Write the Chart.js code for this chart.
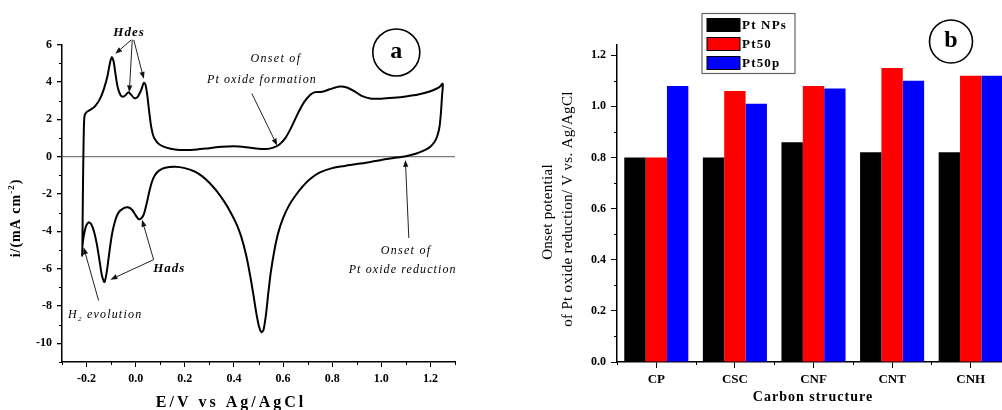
<!DOCTYPE html>
<html><head><meta charset="utf-8">
<script src="https://cdn.jsdelivr.net/npm/chart.js@4.4.1/dist/chart.umd.min.js"></script>
<style>
html,body{margin:0;padding:0;background:#fff;overflow:hidden;width:1002px;height:410px;position:relative;}
#wa{position:absolute;left:0;top:0;width:490px;height:410px;}
#wb{position:absolute;left:500px;top:0;width:520px;height:410px;}
canvas{display:block;}
</style></head><body>
<div id="wa"><canvas id="ca" width="490" height="410"></canvas></div>
<div id="wb"><canvas id="cb" width="520" height="410"></canvas></div>
<script>
// ---------- Panel a: cyclic voltammogram ----------
const potentialE = [
 -0.218,-0.217,-0.215,-0.213,-0.211,-0.208,-0.2,-0.185,-0.165,-0.145,-0.13,-0.115,-0.105,-0.097,-0.09,-0.082,-0.073,-0.062,-0.052,-0.04,
 -0.029,-0.018,-0.005,0.008,0.022,0.033,0.04,0.047,0.055,0.063,0.072,0.085,0.1,0.125,0.16,0.2,0.25,0.3,0.35,0.4,
 0.45,0.5,0.53,0.56,0.585,0.61,0.635,0.66,0.685,0.71,0.73,0.76,0.79,0.83,0.86,0.89,0.92,0.96,1.0,1.05,
 1.1,1.15,1.2,1.235,1.25,
 1.247,1.243,1.237,1.228,1.215,1.195,1.17,1.14,1.1,1.05,1.0,0.95,0.9,0.85,0.8,0.75,0.71,0.68,0.65,0.625,
 0.6,0.58,0.565,0.55,0.54,0.53,0.52,0.512,0.502,0.49,0.478,0.465,0.45,0.43,0.41,0.385,0.36,0.33,0.3,0.27,
 0.24,0.2,0.16,0.12,0.095,0.078,0.065,0.055,0.045,0.033,0.022,0.012,0.0,-0.015,-0.032,-0.05,-0.07,-0.085,-0.097,-0.107,
 -0.117,-0.127,-0.137,-0.147,-0.158,-0.17,-0.182,-0.192,-0.203,-0.212,-0.217
];
const currentI = [
 -5.35,-4.8,-2.0,0.0,1.5,2.2,2.38,2.5,2.7,3.1,3.6,4.3,5.0,5.32,5.1,4.4,3.7,3.3,3.2,3.3,
 3.45,3.3,3.12,3.2,3.55,3.95,3.85,3.3,2.4,1.6,1.1,0.8,0.62,0.48,0.38,0.35,0.38,0.45,0.52,0.55,
 0.5,0.42,0.4,0.48,0.65,1.0,1.6,2.3,2.9,3.3,3.45,3.47,3.6,3.75,3.7,3.5,3.25,3.1,3.1,3.15,
 3.22,3.32,3.5,3.7,3.9,
 3.2,2.4,1.6,1.1,0.75,0.48,0.3,0.15,0.02,-0.08,-0.18,-0.3,-0.4,-0.5,-0.62,-0.85,-1.2,-1.6,-2.1,-2.6,
 -3.3,-4.1,-5.0,-6.2,-7.3,-8.5,-9.3,-9.4,-9.1,-8.3,-7.3,-6.3,-5.3,-4.3,-3.6,-2.95,-2.4,-1.85,-1.4,-1.05,
 -0.8,-0.62,-0.55,-0.6,-0.75,-1.0,-1.4,-1.9,-2.5,-3.1,-3.32,-3.35,-3.15,-2.85,-2.72,-2.78,-3.0,-3.5,-4.2,-5.1,
 -6.1,-6.72,-6.4,-5.6,-4.7,-4.0,-3.6,-3.52,-3.75,-4.3,-4.8
];
const cvXTicks = [-0.2,0.0,0.2,0.4,0.6,0.8,1.0,1.2];
const cvXMinor = [-0.3,-0.1,0.1,0.3,0.5,0.7,0.9,1.1,1.3];
const cvYTicks = [-10,-8,-6,-4,-2,0,2,4,6];
const cvYMinor = [-11,-9,-7,-5,-3,-1,1,3,5];

// ---------- Panel b: onset potentials ----------
const carbonCategories = ['CP','CSC','CNF','CNT','CNH'];
const seriesNames = ['Pt NPs','Pt50','Pt50p'];
const ptNPs = [0.80,0.80,0.86,0.82,0.82];
const pt50  = [0.80,1.06,1.08,1.15,1.12];
const pt50p = [1.08,1.01,1.07,1.10,1.12];
const barYTicks = [0.0,0.2,0.4,0.6,0.8,1.0,1.2];
const barYMinor = [0.1,0.3,0.5,0.7,0.9,1.1];

const SERIF = '"Liberation Serif","Times New Roman",serif';

function txt(ctx, s, x, y, font, opt={}){
  ctx.save(); ctx.translate(x,y); ctx.rotate(opt.rot||0);
  ctx.font=font; try{ctx.letterSpacing=opt.sp||'0px';}catch(e){}
  ctx.textAlign=opt.align||'center'; ctx.textBaseline='middle'; ctx.fillStyle='#000';
  ctx.fillText(s,0,0); ctx.restore();
}
function rich(ctx, segs, x, y, rot, sp){
  ctx.save(); ctx.translate(x,y); ctx.rotate(rot||0);
  ctx.textBaseline='alphabetic'; ctx.fillStyle='#000'; ctx.textAlign='left';
  try{ctx.letterSpacing=sp||'0px';}catch(e){}
  let w=0; segs.forEach(s=>{ctx.font=s.font; s.w=ctx.measureText(s.t).width; w+=s.w;});
  let cx=-w/2;
  segs.forEach(s=>{ctx.font=s.font; ctx.fillText(s.t,cx,s.dy||0); cx+=s.w;});
  ctx.restore();
}
function arrow(ctx,x1,y1,x2,y2){
  ctx.save(); ctx.strokeStyle='#222'; ctx.fillStyle='#111'; ctx.lineWidth=1;
  const a=Math.atan2(y2-y1,x2-x1), L=7, W=2.6;
  const bx=x2-L*Math.cos(a), by=y2-L*Math.sin(a);
  ctx.beginPath(); ctx.moveTo(x1,y1); ctx.lineTo(bx,by); ctx.stroke();
  ctx.beginPath(); ctx.moveTo(x2,y2);
  ctx.lineTo(bx+W*Math.sin(a), by-W*Math.cos(a));
  ctx.lineTo(bx-W*Math.sin(a), by+W*Math.cos(a));
  ctx.closePath(); ctx.fill(); ctx.restore();
}

const minorTicks = {
  id:'minorTicks',
  afterDraw(chart, args, opts){
    const ctx=chart.ctx; ctx.save(); ctx.strokeStyle='#000'; ctx.lineWidth=1;
    const vals=opts.values||{};
    Object.keys(vals).forEach(axis=>{
      const s=chart.scales[axis];
      vals[axis].forEach(v=>{
        if(s.isHorizontal()){
          const px=Math.round(s.getPixelForValue(v))+0.5;
          ctx.beginPath(); ctx.moveTo(px,s.top); ctx.lineTo(px,s.top+opts.len); ctx.stroke();
        } else {
          const py=Math.round(s.getPixelForValue(v))+0.5;
          ctx.beginPath(); ctx.moveTo(s.right,py); ctx.lineTo(s.right-opts.len,py); ctx.stroke();
        }
      });
    });
    ctx.restore();
  }
};

// annotation anchors for panel a, in data units (E, i)
const annoTextsA = [
  {t:'Hdes', x:-0.027, y:6.62, f:'italic bold 13px '+SERIF, sp:'1px'},
  {t:'Onset of', x:0.571, y:5.25, f:'italic 12px '+SERIF, sp:'1.3px'},
  {t:'Pt oxide formation', x:0.514, y:4.12, f:'italic 12px '+SERIF, sp:'1.1px'},
  {t:'Hads', x:0.137, y:-6.0, f:'italic bold 13px '+SERIF, sp:'1px'},
  {t:'Onset of', x:1.101, y:-5.03, f:'italic 12px '+SERIF, sp:'1.3px'},
  {t:'Pt oxide reduction', x:1.087, y:-6.07, f:'italic 12px '+SERIF, sp:'1.1px'}
];
const annoArrowsA = [
  [-0.018,6.25,-0.083,5.5],
  [-0.014,6.25,-0.026,3.44],
  [-0.008,6.25,0.033,4.16],
  [0.473,3.37,0.576,0.59],
  [0.073,-5.52,0.026,-3.39],
  [0.073,-5.52,-0.103,-6.59],
  [-0.151,-7.71,-0.212,-4.86],
  [1.112,-4.36,1.098,-0.18]
];

const decorA = {
  id:'decorA',
  afterDraw(chart){
    const ctx=chart.ctx, X=chart.scales.x, Y=chart.scales.y;
    annoArrowsA.forEach(a=>arrow(ctx,X.getPixelForValue(a[0]),Y.getPixelForValue(a[1]),X.getPixelForValue(a[2]),Y.getPixelForValue(a[3])));
    annoTextsA.forEach(a=>txt(ctx,a.t,X.getPixelForValue(a.x),Y.getPixelForValue(a.y),a.f,{sp:a.sp}));
    // H2 evolution
    rich(ctx,[{t:'H',font:'italic 12px '+SERIF},{t:'2',font:'italic 7px '+SERIF,dy:3},{t:' evolution',font:'italic 12px '+SERIF}],
         X.getPixelForValue(-0.124),Y.getPixelForValue(-8.43)+4,0,'1.2px');
    // circle label
    const cx=X.getPixelForValue(1.061), cy=Y.getPixelForValue(5.57);
    ctx.save(); ctx.beginPath(); ctx.arc(cx,cy,23.5,0,Math.PI*2); ctx.lineWidth=1.6; ctx.strokeStyle='#000'; ctx.stroke(); ctx.restore();
    txt(ctx,'a',cx,cy-1,'bold 24px '+SERIF);
    // axis titles
    txt(ctx,'E/V vs Ag/AgCl',231,403,'bold 16px '+SERIF,{sp:'3px'});
    rich(ctx,[{t:'i/(mA cm',font:'bold 14px '+SERIF},{t:'-2',font:'bold 9px '+SERIF,dy:-6},{t:')',font:'bold 14px '+SERIF}],
         20,218,-Math.PI/2,'1px');
  }
};

const tickFont = {family:SERIF, weight:'bold', size:12};

new Chart(document.getElementById('ca'),{
  type:'scatter',
  data:{datasets:[{
    data: potentialE.map((e,k)=>({x:e,y:currentI[k]})),
    showLine:true, borderColor:'#000', borderWidth:2, pointRadius:0, tension:0.25, fill:false
  }]},
  options:{
    responsive:false, animation:false, devicePixelRatio:1,
    layout:{padding:{top:44.5,right:35,left:0,bottom:0}},
    plugins:{legend:{display:false}, tooltip:{enabled:false},
      minorTicks:{len:3, values:{x:cvXMinor, y:cvYMinor}}},
    scales:{
      x:{type:'linear', min:-0.3, max:1.3,
        afterBuildTicks:s=>{s.ticks=cvXTicks.map(v=>({value:v}));},
        afterFit:s=>{s.height=48;},
        border:{display:true,color:'#000',width:1.5},
        grid:{drawOnChartArea:false,drawTicks:true,tickLength:5,color:'#000',lineWidth:1},
        ticks:{color:'#000',font:tickFont,padding:5,maxRotation:0,autoSkip:false,callback:v=>Number(v).toFixed(1)}},
      y:{type:'linear', min:-11, max:6,
        afterBuildTicks:s=>{s.ticks=cvYTicks.map(v=>({value:v}));},
        afterFit:s=>{s.width=62;},
        border:{display:true,color:'#000',width:1.5},
        grid:{drawOnChartArea:true,drawTicks:true,tickLength:5,lineWidth:1.3,
              color:c=>(c.tick && c.tick.value===0)?'#7a7a7a':'rgba(0,0,0,0)', tickColor:'#000'},
        ticks:{color:'#000',font:tickFont,padding:5,callback:v=>String(v)}}
    }
  },
  plugins:[minorTicks, decorA]
});

// ---------- Panel b ----------
const barColors = ['#000000','#ff0000','#0000ff'];
const decorB = {
  id:'decorB',
  afterDraw(chart){
    const ctx=chart.ctx;
    // legend box
    ctx.save();
    ctx.fillStyle='#fff'; ctx.fillRect(202,13.5,93,60);
    ctx.strokeStyle='#666'; ctx.lineWidth=1.2; ctx.strokeRect(202,13.5,93,60);
    const rows=[18.5,37.5,56.5];
    chart.data.datasets.forEach((ds,k)=>{
      ctx.fillStyle=ds.backgroundColor; ctx.fillRect(207,rows[k],33,13);
      ctx.strokeStyle='#000'; ctx.lineWidth=1; ctx.strokeRect(207,rows[k],33,13);
      txt(ctx,ds.label,242,rows[k]+7,'bold 13px '+SERIF,{align:'left',sp:'1.2px'});
    });
    ctx.restore();
    // circle label
    ctx.save(); ctx.beginPath(); ctx.arc(451,41.5,21.5,0,Math.PI*2); ctx.lineWidth=1.6; ctx.strokeStyle='#000'; ctx.stroke(); ctx.restore();
    txt(ctx,'b',451,40.5,'bold 24px '+SERIF);
    // axis titles
    txt(ctx,'Carbon structure',313,397,'bold 14px '+SERIF,{sp:'1px'});
    txt(ctx,'Onset potential',48,212,'15px '+SERIF,{rot:-Math.PI/2,sp:'0.3px'});
    txt(ctx,'of Pt oxide reduction/ V vs. Ag/AgCl',68,209,'15px '+SERIF,{rot:-Math.PI/2,sp:'0.3px'});
  }
};

new Chart(document.getElementById('cb'),{
  type:'bar',
  data:{labels:carbonCategories, datasets:[
    {label:seriesNames[0], data:ptNPs, backgroundColor:barColors[0]},
    {label:seriesNames[1], data:pt50,  backgroundColor:barColors[1]},
    {label:seriesNames[2], data:pt50p, backgroundColor:barColors[2]}
  ]},
  options:{
    responsive:false, animation:false, devicePixelRatio:1,
    layout:{padding:{top:45,right:10,left:0,bottom:0}},
    datasets:{bar:{barPercentage:1.0, categoryPercentage:0.815, borderWidth:0}},
    plugins:{legend:{display:false}, tooltip:{enabled:false},
      minorTicks:{len:3, values:{x:[-0.5,0.5,1.5,2.5,3.5,4.5], y:barYMinor}}},
    scales:{
      x:{afterFit:s=>{s.height=48;},
        border:{display:true,color:'#000',width:1.5},
        grid:{offset:false,drawOnChartArea:false,drawTicks:true,tickLength:6,color:'#000',lineWidth:1},
        ticks:{color:'#000',font:{family:SERIF,weight:'bold',size:13},padding:4,maxRotation:0,autoSkip:false}},
      y:{min:0, max:1.24,
        afterBuildTicks:s=>{s.ticks=barYTicks.map(v=>({value:v}));},
        afterFit:s=>{s.width=117;},
        border:{display:true,color:'#000',width:1.5},
        grid:{drawOnChartArea:false,drawTicks:true,tickLength:6,color:'#000',lineWidth:1},
        ticks:{color:'#000',font:tickFont,padding:5,callback:v=>Number(v).toFixed(1)}}
    }
  },
  plugins:[minorTicks, decorB]
});
</script>
</body></html>
